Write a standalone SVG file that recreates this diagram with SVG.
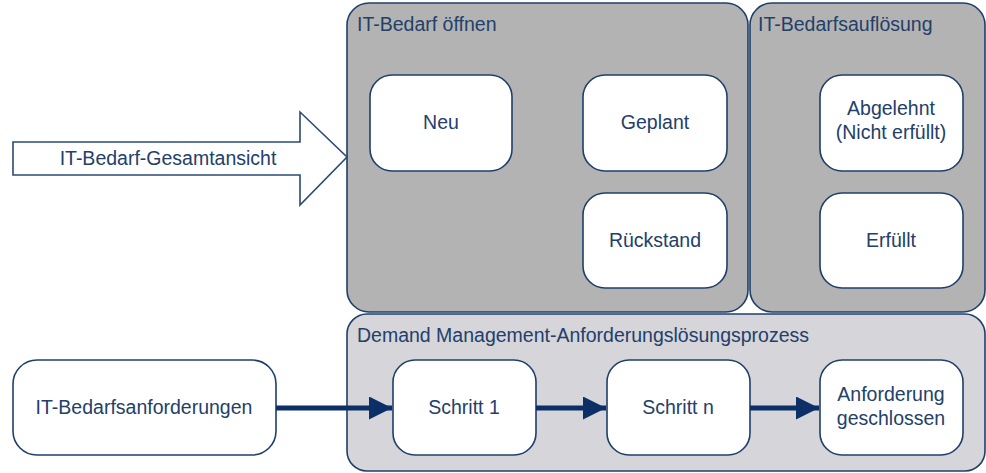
<svg xmlns="http://www.w3.org/2000/svg" width="986" height="473" viewBox="0 0 986 473">
<defs>
<style>
.t{font-family:"Liberation Sans",Arial,sans-serif;font-size:19.5px;fill:#23406a}
.c{text-anchor:middle}
.panel{fill:#b3b3b3;stroke:#1f3f6b;stroke-width:1.6}
.lpanel{fill:#d5d5da;stroke:#1f3f6b;stroke-width:1.6}
.node{fill:#ffffff;stroke:#1f3f6b;stroke-width:1.6}
.conn{stroke:#0b2f66;stroke-width:5;fill:none}
</style>
<marker id="ah" viewBox="0 0 10 10" refX="10" refY="5" markerUnits="userSpaceOnUse" markerWidth="24" markerHeight="23" orient="auto">
<path d="M0,0 L10,5 L0,10 z" fill="#0b2f66"/>
</marker>
</defs>
<rect width="986" height="473" fill="#ffffff"/>

<g id="panel-open">
<rect class="panel" x="347" y="3" width="401" height="309" rx="22" ry="22"/>
<text class="t" x="357" y="31">IT-Bedarf öffnen</text>
</g>
<g id="panel-resolution">
<rect class="panel" x="750" y="3" width="235" height="309" rx="22" ry="22"/>
<text class="t" x="758" y="31">IT-Bedarfsauflösung</text>
</g>
<g id="panel-process">
<rect class="lpanel" x="347" y="314" width="638" height="157" rx="20" ry="20"/>
<text class="t" x="357" y="342">Demand Management-Anforderungslösungsprozess</text>
</g>

<g id="overview-arrow">
<path d="M13,142 L300,142 L300,112 L347,157 L300,205 L300,175 L13,175 Z" fill="#ffffff" stroke="#2a4a75" stroke-width="1.6" stroke-linejoin="miter"/>
<text class="t c" x="168" y="165">IT-Bedarf-Gesamtansicht</text>
</g>

<g id="node-neu">
<rect class="node" x="370" y="75" width="142" height="96" rx="22" ry="22"/>
<text class="t c" x="441" y="129">Neu</text>
</g>
<g id="node-geplant">
<rect class="node" x="583" y="75" width="144" height="96" rx="22" ry="22"/>
<text class="t c" x="655" y="129">Geplant</text>
</g>
<g id="node-rueckstand">
<rect class="node" x="583" y="193" width="144" height="95" rx="22" ry="22"/>
<text class="t c" x="655" y="247">Rückstand</text>
</g>
<g id="node-abgelehnt">
<rect class="node" x="820" y="75" width="143" height="96" rx="22" ry="22"/>
<text class="t c" x="891" y="115">Abgelehnt</text>
<text class="t c" x="891" y="139">(Nicht erfüllt)</text>
</g>
<g id="node-erfuellt">
<rect class="node" x="820" y="193" width="143" height="95" rx="22" ry="22"/>
<text class="t c" x="891" y="247">Erfüllt</text>
</g>

<g id="node-anforderungen">
<rect class="node" x="13" y="360" width="263" height="95" rx="24" ry="24"/>
<text class="t c" x="144" y="414">IT-Bedarfsanforderungen</text>
</g>
<g id="node-schritt1">
<rect class="node" x="393" y="360" width="143" height="95" rx="22" ry="22"/>
<text class="t c" x="464" y="414">Schritt 1</text>
</g>
<g id="node-schrittn">
<rect class="node" x="607" y="360" width="143" height="95" rx="22" ry="22"/>
<text class="t c" x="678" y="414">Schritt n</text>
</g>
<g id="node-geschlossen">
<rect class="node" x="820" y="360" width="143" height="95" rx="22" ry="22"/>
<text class="t c" x="891" y="401">Anforderung</text>
<text class="t c" x="891" y="425">geschlossen</text>
</g>

<g id="connectors">
<line class="conn" x1="276" y1="408" x2="392" y2="408" marker-end="url(#ah)"/>
<line class="conn" x1="536" y1="408" x2="606" y2="408" marker-end="url(#ah)"/>
<line class="conn" x1="750" y1="408" x2="819" y2="408" marker-end="url(#ah)"/>
</g>
</svg>
